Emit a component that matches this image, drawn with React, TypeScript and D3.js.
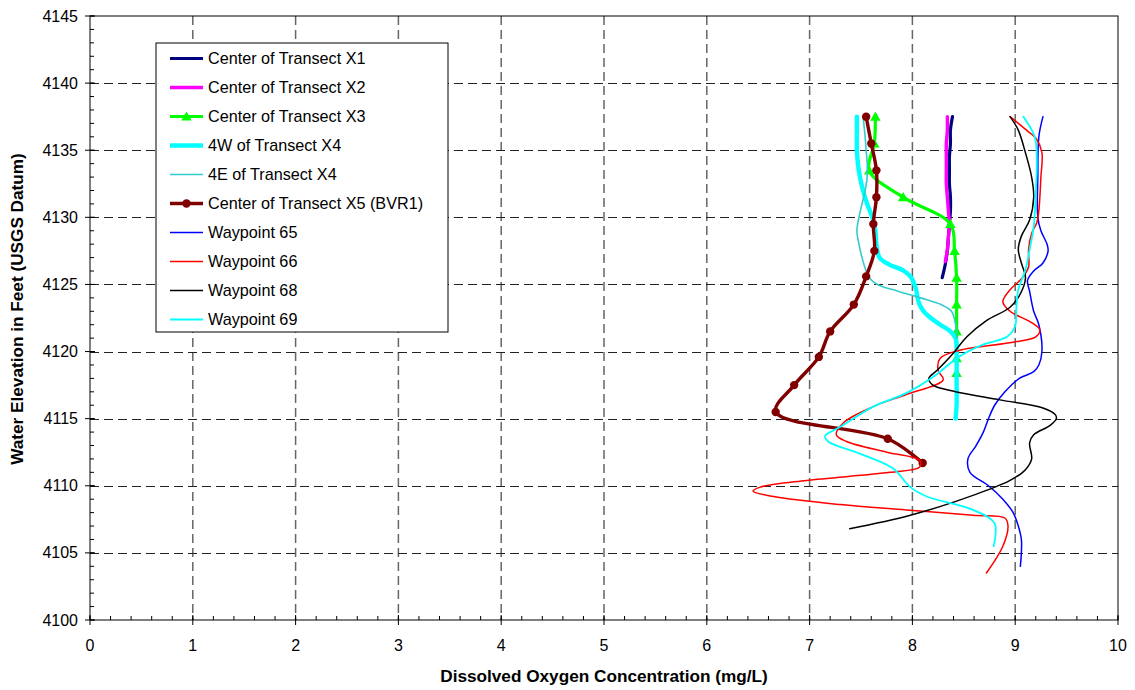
import React from "react";
import * as d3 from "d3";

// Each point is [dissolved oxygen (mg/L), water elevation (ft)]
type Pt = [number, number];

const xTickValues = [0, 1, 2, 3, 4, 5, 6, 7, 8, 9, 10];
const yTickValues = [4100, 4105, 4110, 4115, 4120, 4125, 4130, 4135, 4140, 4145];

const transectX1: Pt[] = [
  [8.39, 4137.5], [8.37, 4136.5], [8.37, 4135.5], [8.36, 4134.5], [8.36, 4133.5],
  [8.36, 4132.5], [8.37, 4131.5], [8.37, 4130.5], [8.36, 4129.5], [8.35, 4128.5],
  [8.34, 4127.5], [8.32, 4126.5], [8.29, 4125.5],
];

const transectX2: Pt[] = [
  [8.34, 4137.5], [8.34, 4136.5], [8.33, 4135.5], [8.33, 4134.5], [8.33, 4133.5],
  [8.33, 4132.5], [8.34, 4131.5], [8.35, 4130.5], [8.36, 4129.5], [8.35, 4128.5],
  [8.34, 4127.6], [8.32, 4126.7],
];

const transectX3: Pt[] = [
  [7.64, 4137.5], [7.63, 4135.5], [7.58, 4133.5], [7.91, 4131.5], [8.37, 4129.5],
  [8.41, 4127.5], [8.43, 4125.5], [8.43, 4123.5], [8.43, 4121.5], [8.43, 4119.5],
  [8.43, 4118.4],
];

const transectX4W: Pt[] = [
  [7.46, 4137.5], [7.46, 4136], [7.46, 4135], [7.47, 4134], [7.49, 4133],
  [7.52, 4132], [7.56, 4131], [7.61, 4130], [7.64, 4129], [7.65, 4128],
  [7.68, 4127], [7.77, 4126.5], [7.92, 4126], [7.99, 4125.5], [8.02, 4125],
  [8.04, 4124.5], [8.05, 4124], [8.07, 4123.5], [8.11, 4123], [8.18, 4122.5],
  [8.27, 4122], [8.37, 4121.5], [8.42, 4121], [8.43, 4120], [8.43, 4118],
  [8.43, 4116], [8.42, 4115],
];

const transectX4E: Pt[] = [
  [7.52, 4137.5], [7.54, 4136], [7.55, 4135], [7.56, 4134], [7.56, 4133],
  [7.54, 4132], [7.51, 4131], [7.48, 4130], [7.46, 4129], [7.48, 4128],
  [7.51, 4127], [7.55, 4126], [7.58, 4125.5], [7.66, 4125], [7.86, 4124.5],
  [8.08, 4124], [8.28, 4123.5], [8.38, 4123], [8.42, 4122], [8.43, 4121],
];

const transectX5: Pt[] = [
  [7.55, 4137.5], [7.60, 4135.5], [7.65, 4133.5], [7.65, 4131.5], [7.62, 4129.5],
  [7.63, 4127.5], [7.55, 4125.6], [7.43, 4123.5], [7.20, 4121.5], [7.09, 4119.6],
  [6.85, 4117.5], [6.67, 4115.5], [7.76, 4113.5], [8.10, 4111.7],
];

const waypoint65: Pt[] = [
  [9.27, 4137.5], [9.23, 4136], [9.22, 4133], [9.22, 4130], [9.25, 4129],
  [9.31, 4128], [9.32, 4127.5], [9.27, 4126.6], [9.18, 4126], [9.12, 4125.3],
  [9.14, 4124.5], [9.18, 4123], [9.23, 4122], [9.26, 4120], [9.23, 4119],
  [9.18, 4118.5], [9.04, 4118], [8.90, 4117], [8.80, 4116], [8.74, 4115],
  [8.69, 4114], [8.62, 4113], [8.54, 4112], [8.56, 4111], [8.74, 4110],
  [8.88, 4109], [8.98, 4108], [9.03, 4107], [9.06, 4106], [9.06, 4105],
  [9.05, 4104],
];

const waypoint66: Pt[] = [
  [8.95, 4137.5], [9.11, 4136.5], [9.21, 4135.8], [9.26, 4134.8], [9.25, 4133],
  [9.23, 4130.5], [9.21, 4129.6], [9.16, 4128.8], [9.13, 4127.6], [9.13, 4126.3],
  [9.07, 4125.5], [8.95, 4124.6], [8.88, 4123.7], [8.95, 4123.0], [9.15, 4122.2],
  [9.24, 4121.6], [9.20, 4121.1], [8.98, 4120.7], [8.46, 4120.1], [8.27, 4119.5],
  [8.25, 4118.6], [8.30, 4117.9], [7.94, 4116.8], [7.62, 4115.9], [7.33, 4114.7],
  [7.26, 4113.8], [7.36, 4113.3], [7.75, 4112.5], [8.07, 4111.9], [8.07, 4111.4],
  [7.78, 4111.0], [6.97, 4110.4], [6.52, 4109.9], [6.45, 4109.6], [6.65, 4109.2],
  [7.30, 4108.6], [7.94, 4108.2], [8.59, 4107.8], [8.90, 4107.6], [8.93, 4107.0],
  [8.88, 4105.5], [8.72, 4103.5],
];

const waypoint68: Pt[] = [
  [8.95, 4137.5], [9.03, 4136.5], [9.10, 4134.8], [9.16, 4133], [9.18, 4131.5],
  [9.14, 4129.8], [9.06, 4128.6], [9.03, 4127.6], [9.06, 4126.6], [9.10, 4125.5],
  [9.05, 4124.3], [8.95, 4123.3], [8.72, 4122.3], [8.53, 4121.1], [8.40, 4119.9],
  [8.24, 4118.6], [8.16, 4118.0], [8.20, 4117.5], [8.37, 4117.1], [8.85, 4116.4],
  [9.27, 4115.8], [9.39, 4115.3], [9.40, 4115.0], [9.34, 4114.5], [9.18, 4113.8],
  [9.14, 4113.2], [9.16, 4112.0], [9.10, 4111.2], [8.95, 4110.4], [8.63, 4109.4],
  [7.98, 4107.8], [7.39, 4106.8],
];

const waypoint69: Pt[] = [
  [9.08, 4137.5], [9.19, 4136], [9.21, 4134.3], [9.20, 4131.8], [9.18, 4129.3],
  [9.14, 4127.6], [9.10, 4126.1], [9.03, 4124.6], [9.01, 4123.1], [9.00, 4121.9],
  [8.92, 4121.1], [8.68, 4120.5], [8.45, 4119.6], [8.20, 4118.1], [7.94, 4116.9],
  [7.62, 4115.9], [7.30, 4114.4], [7.15, 4113.7], [7.18, 4113.3], [7.49, 4112.4],
  [7.81, 4111.3], [7.98, 4109.9], [8.14, 4109.2], [8.59, 4108.2], [8.80, 4107.2],
  [8.79, 4105.5],
];

const seriesNames = [
  "Center of Transect X1",
  "Center of Transect X2",
  "Center of Transect X3",
  "4W of Transect X4",
  "4E of Transect X4",
  "Center of Transect X5 (BVR1)",
  "Waypoint 65",
  "Waypoint 66",
  "Waypoint 68",
  "Waypoint 69",
];

const seriesData: Pt[][] = [
  transectX1, transectX2, transectX3, transectX4W, transectX4E,
  transectX5, waypoint65, waypoint66, waypoint68, waypoint69,
];

type Style = { color: string; width: number; marker?: "triangle" | "circle" };
const seriesStyles: Style[] = [
  { color: "#000080", width: 3.2 },
  { color: "#FF00FF", width: 3.4 },
  { color: "#00FF00", width: 3.2, marker: "triangle" },
  { color: "#00FFFF", width: 4.4 },
  { color: "#33CCCC", width: 1.6 },
  { color: "#800000", width: 3.4, marker: "circle" },
  { color: "#0000FF", width: 1.5 },
  { color: "#FF0000", width: 1.5 },
  { color: "#000000", width: 1.5 },
  { color: "#00FFFF", width: 1.8 },
];

const FONT = "'Liberation Sans', Arial, Helvetica, sans-serif";

export default function App() {
  const left = 90, right = 1118, top = 16, bottom = 620;
  const x = d3.scaleLinear().domain([0, 10]).range([left, right]);
  const y = d3.scaleLinear().domain([4100, 4145]).range([bottom, top]);

  const line = d3
    .line<Pt>()
    .x((d) => x(d[0]))
    .y((d) => y(d[1]))
    .curve(d3.curveCatmullRom.alpha(0.5));

  const triPath = d3.symbol(d3.symbolTriangle, 48)() as string;

  const xMinor = d3.range(0, 10.0001, 0.2);
  const yMinor = d3.range(4100, 4145.0001, 1);

  const marker = (s: Style, cx: number, cy: number, key: string | number) => {
    if (s.marker === "triangle")
      return <path key={key} d={triPath} transform={`translate(${cx},${cy + 1})`} fill={s.color} />;
    if (s.marker === "circle") return <circle key={key} cx={cx} cy={cy} r={4.2} fill={s.color} />;
    return null;
  };

  const legendX = 156, legendY = 43, legendW = 292, legendH = 289;
  const rowY0 = 58.5, rowStep = 29;

  return (
    <div style={{ position: "absolute", left: 0, top: 0 }}>
      <svg width={1135} height={690} style={{ display: "block", background: "#fff" }}>
        <rect x={0} y={0} width={1135} height={690} fill="#fff" />
        {/* grid */}
        <g>
          {xTickValues.slice(1, -1).map((v) => (
            <line key={`gx${v}`} x1={x(v)} x2={x(v)} y1={top} y2={bottom}
              stroke="#666" strokeWidth={1.5} strokeDasharray="9,5" />
          ))}
          {yTickValues.slice(1, -1).map((v) => (
            <line key={`gy${v}`} x1={left} x2={right} y1={Math.round(y(v)) + 0.5} y2={Math.round(y(v)) + 0.5}
              stroke="#222" strokeWidth={1} strokeDasharray="9,5" />
          ))}
        </g>
        {/* plot frame */}
        <rect x={left} y={top} width={right - left} height={bottom - top} fill="none" stroke="#000" strokeWidth={1} />
        {/* x axis ticks */}
        <g>
          {xMinor.map((v, i) => (
            <line key={`xm${i}`} x1={x(v)} x2={x(v)} y1={bottom - 4} y2={bottom} stroke="#000" />
          ))}
          {xTickValues.map((v) => (
            <line key={`xt${v}`} x1={x(v)} x2={x(v)} y1={bottom - 5} y2={bottom + 5} stroke="#000" />
          ))}
          {xTickValues.map((v) => (
            <text key={`xl${v}`} x={x(v)} y={651} textAnchor="middle" fontFamily={FONT} fontSize={16}>
              {v}
            </text>
          ))}
        </g>
        {/* y axis ticks */}
        <g>
          {yMinor.map((v, i) => (
            <line key={`ym${i}`} x1={left} x2={left + 4} y1={y(v)} y2={y(v)} stroke="#000" />
          ))}
          {yTickValues.map((v) => (
            <line key={`yt${v}`} x1={left - 5} x2={left + 5} y1={y(v)} y2={y(v)} stroke="#000" />
          ))}
          {yTickValues.map((v) => (
            <text key={`yl${v}`} x={78} y={y(v) + 5.5} textAnchor="end" fontFamily={FONT} fontSize={16}>
              {v}
            </text>
          ))}
        </g>
        {/* series */}
        <g fill="none">
          {seriesData.map((data, i) => {
            const s = seriesStyles[i];
            return (
              <g key={`s${i}`}>
                <path d={line(data) as string} fill="none" stroke={s.color} strokeWidth={s.width}
                  strokeLinejoin="round" strokeLinecap="round" />
                {s.marker && data.map((d, j) => marker(s, x(d[0]), y(d[1]), j))}
              </g>
            );
          })}
        </g>
        {/* legend */}
        <g>
          <rect x={legendX} y={legendY} width={legendW} height={legendH} fill="#fff" stroke="#000" strokeWidth={1} />
          {seriesNames.map((name, i) => {
            const s = seriesStyles[i];
            const ry = rowY0 + i * rowStep;
            return (
              <g key={`lg${i}`}>
                <line x1={170} x2={203} y1={ry} y2={ry} stroke={s.color} strokeWidth={s.width} />
                {marker(s, 186.5, ry, "m")}
                <text x={208} y={ry + 5.5} fontFamily={FONT} fontSize={16.2}>
                  {name}
                </text>
              </g>
            );
          })}
        </g>
        {/* axis titles */}
        <text x={604} y={682} textAnchor="middle" fontFamily={FONT} fontSize={17.2} fontWeight="bold">
          Dissolved Oxygen Concentration (mg/L)
        </text>
        <text transform="translate(23,309) rotate(-90)" textAnchor="middle" fontFamily={FONT} fontSize={17.2} fontWeight="bold">
          Water Elevation in Feet (USGS Datum)
        </text>
      </svg>
    </div>
  );
}
